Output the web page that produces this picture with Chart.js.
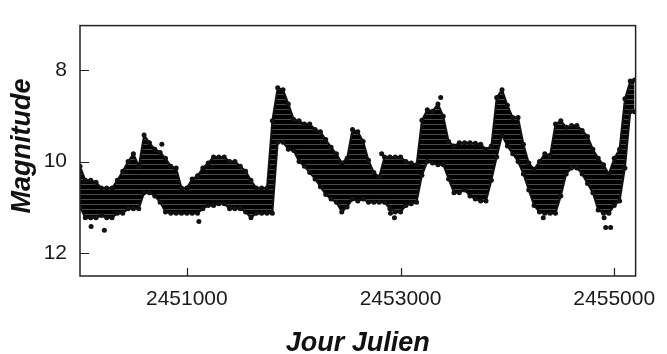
<!DOCTYPE html>
<html>
<head>
<meta charset="utf-8">
<script src="https://cdn.jsdelivr.net/npm/chart.js@4.4.1/dist/chart.umd.min.js"></script>
<style>
  html, body { margin: 0; padding: 0; background: #fff; }
  canvas { display: block; }
</style>
</head>
<body>
<canvas id="courbe" width="667" height="354"></canvas>
<script>
// Courbe de lumière : jour julien / magnitude (enveloppe)
const jourJulien = [
  2450000, 2450050, 2450100, 2450150, 2450200, 2450250, 2450300, 2450350, 2450400, 2450450,
  2450500, 2450550, 2450600, 2450650, 2450700, 2450750, 2450800, 2450850, 2450900, 2450950,
  2451000, 2451050, 2451100, 2451150, 2451200, 2451250, 2451300, 2451350, 2451400, 2451450,
  2451500, 2451550, 2451600, 2451650, 2451700, 2451750, 2451800, 2451850, 2451900, 2451950,
  2452000, 2452050, 2452100, 2452150, 2452200, 2452250, 2452300, 2452350, 2452400, 2452450,
  2452500, 2452550, 2452600, 2452650, 2452700, 2452750, 2452800, 2452850, 2452900, 2452950,
  2453000, 2453050, 2453100, 2453150, 2453200, 2453250, 2453300, 2453350, 2453400, 2453450,
  2453500, 2453550, 2453600, 2453650, 2453700, 2453750, 2453800, 2453850, 2453900, 2453950,
  2454000, 2454050, 2454100, 2454150, 2454200, 2454250, 2454300, 2454350, 2454400, 2454450,
  2454500, 2454550, 2454600, 2454650, 2454700, 2454750, 2454800, 2454850, 2454900, 2454950,
  2455000, 2455050, 2455100, 2455150, 2455190
];
// bord brillant (magnitude la plus faible)
const magBrillante = [
  10.10, 10.41, 10.41, 10.45, 10.58, 10.58, 10.58, 10.41, 10.21, 10.00,
  9.83, 10.10, 9.42, 9.59, 9.73, 9.80, 9.93, 10.10, 10.14, 10.58,
  10.58, 10.38, 10.31, 10.14, 10.03, 9.90, 9.90, 9.90, 10.00, 10.00,
  10.10, 10.21, 10.41, 10.58, 10.58, 10.58, 9.11, 8.39, 8.43, 8.74,
  9.08, 9.11, 9.18, 9.18, 9.30, 9.35, 9.52, 9.69, 9.83, 10.03,
  9.93, 9.30, 9.35, 9.56, 9.97, 10.24, 10.34, 9.90, 9.90, 9.90,
  9.90, 10.00, 10.03, 10.07, 9.10, 8.87, 8.90, 8.74, 9.01, 9.56,
  9.66, 9.59, 9.59, 9.59, 9.60, 9.62, 9.73, 9.66, 8.60, 8.43,
  8.77, 9.04, 9.04, 9.62, 10.03, 10.17, 10.00, 9.83, 9.86, 9.18,
  9.11, 9.25, 9.21, 9.21, 9.32, 9.45, 9.73, 9.93, 10.07, 10.27,
  9.93, 9.73, 8.63, 8.24, 8.22
];
// bord faible (magnitude la plus grande)
const magFaible = [
  11.00, 11.23, 11.23, 11.23, 11.18, 11.23, 11.23, 11.13, 11.13, 11.03,
  11.03, 11.03, 10.68, 10.68, 10.75, 10.89, 11.10, 11.13, 11.13, 11.13,
  11.13, 11.13, 11.13, 11.03, 10.96, 10.96, 10.92, 10.92, 11.03, 11.03,
  11.03, 11.10, 11.23, 11.13, 11.13, 11.13, 11.13, 9.58, 9.58, 9.73,
  9.76, 10.00, 10.10, 10.24, 10.38, 10.55, 10.72, 10.82, 10.89, 11.10,
  10.99, 10.82, 10.86, 10.82, 10.89, 10.89, 10.89, 10.89, 11.03, 11.10,
  11.10, 10.96, 10.92, 10.89, 10.30, 10.00, 10.03, 10.07, 10.07, 10.38,
  10.68, 10.68, 10.62, 10.75, 10.82, 10.86, 10.86, 10.41, 9.90, 9.42,
  9.66, 9.83, 10.00, 10.27, 10.62, 10.96, 11.10, 11.13, 11.13, 11.13,
  10.75, 10.27, 10.14, 10.14, 10.27, 10.48, 10.68, 11.06, 11.13, 11.13,
  10.96, 10.86, 10.14, 8.91, 8.91
];
// points isolés
const isolesJour = [2450104, 2450228, 2451113, 2450766, 2452823, 2452906, 2452943, 2453376, 2454336, 2454905, 2454920, 2454966];
const isolesMag  = [11.42, 11.50, 11.31, 9.62, 9.83, 11.13, 11.23, 8.60, 11.23, 11.23, 11.44, 11.44];

const ticksJour = [2451000, 2453000, 2455000];
const ticksMag = [8, 10, 12];

const police = '"Liberation Sans", Arial, Helvetica, sans-serif';
const noir = '#111';

// motif de remplissage : lignes de mesures serrées
function motifLignes() {
    const c = document.createElement('canvas');
    c.width = 1; c.height = 5;
    const g = c.getContext('2d');
    g.fillStyle = '#000';
    g.fillRect(0, 0, 1, 4);
    g.fillStyle = '#4a4a4a';
    g.fillRect(0, 4, 1, 1);
    return g.createPattern(c, 'repeat');
}

// cadre, graduations internes et titres des axes
const cadrePlugin = {
    id: 'cadre',
    afterDraw(chart) {
        const { ctx, chartArea: a, scales } = chart;
        ctx.save();
        ctx.strokeStyle = '#222';
        ctx.lineWidth = 1.5;
        ctx.strokeRect(a.left, a.top, a.right - a.left, a.bottom - a.top);
        ctx.beginPath();
        ticksJour.forEach(v => {
            const x = Math.round(scales.x.getPixelForValue(v)) + 0.5;
            ctx.moveTo(x, a.bottom);
            ctx.lineTo(x, a.bottom - 8);
        });
        ticksMag.forEach(v => {
            const y = Math.round(scales.y.getPixelForValue(v)) + 0.5;
            ctx.moveTo(a.left, y);
            ctx.lineTo(a.left + 9, y);
        });
        ctx.lineWidth = 1.2;
        ctx.stroke();

        ctx.fillStyle = '#111';
        ctx.font = 'italic bold 27px ' + police;
        ctx.textAlign = 'center';
        ctx.textBaseline = 'alphabetic';
        ctx.fillText('Jour Julien', (a.left + a.right) / 2, 351);
        ctx.translate(30, 146);
        ctx.rotate(-Math.PI / 2);
        ctx.fillText('Magnitude', 0, 0);
        ctx.restore();
    }
};

const ctx = document.getElementById('courbe').getContext('2d');
const pointStyle = { pointRadius: 2.5, pointHoverRadius: 2.5, pointBackgroundColor: noir, pointBorderWidth: 0 };

new Chart(ctx, {
    type: 'line',
    data: {
        datasets: [
            {
                data: jourJulien.map((x, i) => ({ x: x, y: magFaible[i] })),
                borderColor: noir, borderWidth: 2, fill: false,
                ...pointStyle
            },
            {
                data: jourJulien.map((x, i) => ({ x: x, y: magBrillante[i] })),
                borderColor: noir, borderWidth: 2, fill: '-1',
                backgroundColor: motifLignes(),
                ...pointStyle
            },
            {
                type: 'scatter',
                data: isolesJour.map((x, i) => ({ x: x, y: isolesMag[i] })),
                showLine: false,
                ...pointStyle
            }
        ]
    },
    options: {
        responsive: false,
        animation: false,
        layout: { padding: { left: 0, right: 23, top: 9, bottom: 0 } },
        plugins: { legend: { display: false }, tooltip: { enabled: false } },
        scales: {
            x: {
                type: 'linear', min: 2450000, max: 2455200,
                grid: { display: false, drawTicks: false },
                border: { display: false },
                afterBuildTicks: s => { s.ticks = ticksJour.map(v => ({ value: v })); },
                afterFit: s => { s.height = 78; },
                ticks: {
                    padding: 11, autoSkip: false, maxRotation: 0,
                    color: '#1a1a1a', font: { family: police, size: 21 },
                    callback: v => String(v)
                }
            },
            y: {
                type: 'linear', reverse: true, min: 7.03, max: 12.5,
                grid: { display: false, drawTicks: false },
                border: { display: false },
                afterBuildTicks: s => { s.ticks = ticksMag.map(v => ({ value: v })); },
                afterFit: s => { s.width = 80; },
                ticks: {
                    padding: 13,
                    color: '#1a1a1a', font: { family: police, size: 21 },
                    callback: v => String(v)
                }
            }
        }
    },
    plugins: [cadrePlugin]
});
</script>
</body>
</html>
